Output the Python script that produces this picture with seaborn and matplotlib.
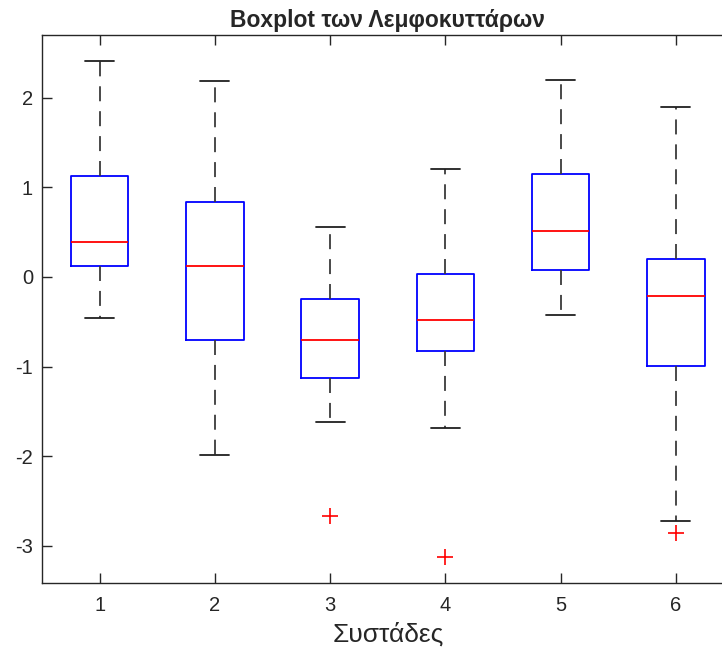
import numpy as np
import pandas as pd
import matplotlib
matplotlib.use("Agg")
import matplotlib.pyplot as plt
import seaborn as sns

clusters = ["1", "2", "3", "4", "5", "6"]
lower_whisker = [-0.46, -1.99, -1.62, -1.685, -0.42, -2.72]
q1 = [0.12, -0.70, -1.13, -0.83, 0.08, -0.99]
median = [0.39, 0.12, -0.70, -0.48, 0.51, -0.21]
q3 = [1.127, 0.84, -0.245, 0.03, 1.15, 0.20]
upper_whisker = [2.41, 2.19, 0.56, 1.205, 2.20, 1.90]
outliers = [[], [], [-2.67], [-3.125], [], [-2.86]]

sns.set_style("ticks")
plt.rcParams["font.family"] = ["Liberation Sans", "DejaVu Sans"]

# Build a table whose quartiles/whiskers reproduce the read statistics
rows = []
for c, lw, a, m, b, uw, outs in zip(clusters, lower_whisker, q1, median, q3, upper_whisker, outliers):
    if outs:
        vals = list(outs) + [lw, a, a, m, b, b, uw, uw]
    else:
        vals = [lw, a, m, b, uw]
    rows += [(c, v) for v in vals]
df = pd.DataFrame(rows, columns=["cluster", "value"])

W, H = 722, 651
fig = plt.figure(figsize=(W / 100, H / 100), dpi=100)
left, right, top, bottom = 42, 733.5, 35, 583
ax = fig.add_axes([left / W, (H - bottom) / H, (right - left) / W, (bottom - top) / H])

sns.boxplot(
    data=df, x="cluster", y="value", order=clusters, ax=ax,
    width=0.5, fill=False, color="blue", linewidth=1.2, whis=1.5,
    boxprops=dict(color="blue", linewidth=1.3),
    medianprops=dict(color="red", linewidth=1.3),
    whiskerprops=dict(color="#3a3a3a", linestyle=(0, (8.3, 5.5)), linewidth=1.3),
    capprops=dict(color="#202020", linewidth=1.3),
    flierprops=dict(marker="+", markeredgecolor="red", markerfacecolor="red",
                    markersize=11, markeredgewidth=1.2),
)

ax.set_xlim(-0.5, 5.5)
ax.set_ylim(-3.415, 2.70)
ax.set_yticks([-3, -2, -1, 0, 1, 2])
ax.set_yticklabels(["-3", "-2", "-1", "0", "1", "2"])
ax.tick_params(direction="in", length=7, width=1, colors="#262626",
               labelsize=14.5, top=True, right=True)
ax.tick_params(axis="y", pad=6.5)
ax.tick_params(axis="x", pad=9.5)
for s in ax.spines.values():
    s.set_visible(True)
    s.set_color("#262626")
    s.set_linewidth(1)
ax.set_ylabel("")
ax.set_xlabel("Συστάδες", fontsize=19, color="#262626", labelpad=5)
ax.set_title("Boxplot των Λεμφοκυττάρων", fontsize=16.5, fontweight="bold", pad=6)

fig.savefig("out.png", dpi=100)
